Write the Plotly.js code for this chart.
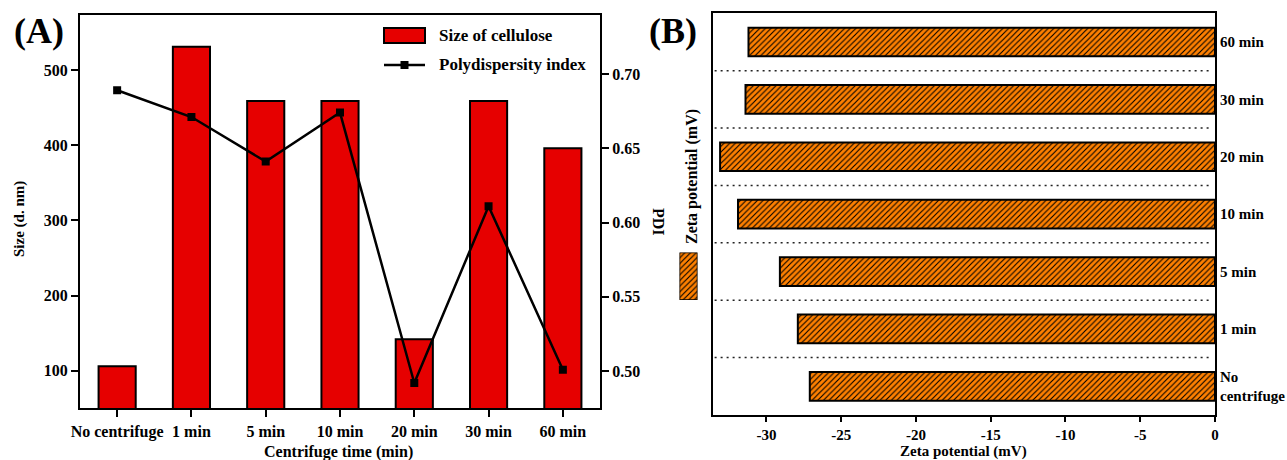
<!DOCTYPE html>
<html>
<head>
<meta charset="utf-8">
<script src="https://cdn.plot.ly/plotly-3.0.1.min.js"></script>
<style>html,body{margin:0;padding:0;background:#fff;}#chart{width:1287px;height:460px;}</style>
</head>
<body>
<div id="chart"></div>
<script>
// ---- data ----
const categories = ['No centrifuge', '1 min', '5 min', '10 min', '20 min', '30 min', '60 min'];
const sizeNm = [106, 531, 459, 459, 142, 459, 396];
const pdi = [0.689, 0.671, 0.641, 0.674, 0.492, 0.611, 0.501];
const zetaLabels = ['No<br>centrifuge', '1 min', '5 min', '10 min', '20 min', '30 min', '60 min'];
const zeta = [-27.1, -27.9, -29.1, -31.9, -33.1, -31.4, -31.2];
const sizeTicks = [100, 200, 300, 400, 500];
const pdiTicks = [0.50, 0.55, 0.60, 0.65, 0.70];
const pdiTickText = ['0.50', '0.55', '0.60', '0.65', '0.70'];
const zetaTicks = [-30, -25, -20, -15, -10, -5, 0];
const zetaTickText = ['-30', '-25', '-20', '-15', '-10', '-5', '0'];

// ---- layout helpers ----
const W = 1287, H = 460;
const px = x => x / W;
const py = y => 1 - y / H;
const FONT = 'Liberation Serif, Times New Roman, serif';
const RED = '#E60000';
const ORANGE = '#FF8000';
const hatch = {shape: '/', fgcolor: '#000', bgcolor: ORANGE, size: 4, solidity: 0.28, fillmode: 'replace'};

const traces = [
  {type: 'bar', x: categories, y: sizeNm, xaxis: 'x', yaxis: 'y', width: 0.5,
   marker: {color: RED, line: {color: '#000', width: 2}}, name: 'Size of cellulose', showlegend: false},
  {type: 'scatter', mode: 'lines+markers', x: categories, y: pdi, xaxis: 'x', yaxis: 'y2',
   line: {color: '#000', width: 2.5}, marker: {symbol: 'square', size: 8, color: '#000'},
   name: 'Polydispersity index', showlegend: false},
  {type: 'bar', orientation: 'h', x: zeta, y: categories, xaxis: 'x2', yaxis: 'y3', width: 0.5,
   marker: {color: ORANGE, pattern: hatch, line: {color: '#000', width: 2}}, name: 'Zeta potential', showlegend: false},
  // legend swatch for panel B (left side)
  {type: 'bar', x: ['swatch'], y: [1], xaxis: 'x3', yaxis: 'y4', width: 1,
   marker: {color: ORANGE, pattern: hatch, line: {color: '#000', width: 1.5}}, showlegend: false, hoverinfo: 'skip'}
];

const shapes = [];
// dotted separators between categories in panel B
for (let i = 0; i < categories.length - 1; i++) {
  shapes.push({type: 'line', xref: 'x2 domain', yref: 'y3', x0: 0.004, x1: 0.993, y0: i + 0.5, y1: i + 0.5,
               line: {color: '#222', width: 1.5, dash: '2px,4px'}});
}
// manual legend for panel A
shapes.push({type: 'rect', xref: 'paper', yref: 'paper', x0: px(384), x1: px(425), y0: py(43), y1: py(28),
             fillcolor: RED, line: {color: '#000', width: 2}});
shapes.push({type: 'line', xref: 'paper', yref: 'paper', x0: px(384), x1: px(425), y0: py(65), y1: py(65),
             line: {color: '#000', width: 2.5}});
shapes.push({type: 'rect', xref: 'paper', yref: 'paper', x0: px(400.5), x1: px(408.5), y0: py(69), y1: py(61),
             fillcolor: '#000', line: {color: '#000', width: 0}});

const bold = (size) => ({family: FONT, size: size, color: '#000', weight: 'bold'});
const ann = (text, x, y, size, extra) => Object.assign({text: text, xref: 'paper', yref: 'paper', x: px(x), y: py(y),
  showarrow: false, font: bold(size), xanchor: 'center', yanchor: 'middle'}, extra || {});

const annotations = [
  ann('(A)', 39, 31, 36),
  ann('(B)', 673, 31, 36),
  ann('Size (d. nm)', 19, 219, 15, {textangle: -90}),
  ann('Centrifuge time (min)', 338, 452, 16),
  ann('Zeta potential (mV)', 963, 451.5, 15),
  ann('PDI', 659, 222, 16, {textangle: 90}),
  ann('Zeta potential (mV)', 692, 177, 16, {textangle: -90}),
  ann('Size of cellulose', 437, 35, 17, {xanchor: 'left'}),
  ann('Polydispersity index', 437, 65, 17, {xanchor: 'left'})
];

const axLine = {showline: true, linecolor: '#000', linewidth: 2, showgrid: false, zeroline: false,
                tickcolor: '#000', tickwidth: 2, ticklen: 7, ticks: 'outside', tickfont: bold(16)};

const layout = {
  width: W, height: H, margin: {l: 0, r: 0, t: 0, b: 0},
  paper_bgcolor: '#fff', plot_bgcolor: 'rgba(0,0,0,0)',
  font: bold(16), showlegend: false, bargap: 0,
  xaxis: Object.assign({}, axLine, {domain: [px(80), px(600)], anchor: 'y', type: 'category',
    categoryorder: 'array', categoryarray: categories, range: [-0.5, 6.5], mirror: true}),
  yaxis: Object.assign({}, axLine, {domain: [py(408.3), py(14.5)], anchor: 'x', range: [50, 574],
    tickvals: sizeTicks}),
  yaxis2: Object.assign({}, axLine, {overlaying: 'y', side: 'right', anchor: 'x', range: [0.475, 0.740],
    tickvals: pdiTicks, ticktext: pdiTickText}),
  xaxis2: Object.assign({}, axLine, {domain: [px(712.6), px(1215)], anchor: 'y3', range: [-33.6, 0],
    tickvals: zetaTicks, ticktext: zetaTickText, mirror: true, ticklen: 5, tickfont: bold(15)}),
  yaxis3: Object.assign({}, axLine, {domain: [py(415), py(13.3)], anchor: 'x2', side: 'right', type: 'category',
    categoryorder: 'array', categoryarray: categories, range: [-0.5, 6.5], ticks: '', mirror: true,
    tickvals: categories, ticktext: zetaLabels, tickfont: bold(15)}),
  xaxis3: {domain: [px(679.5), px(697.5)], anchor: 'y4', visible: false, fixedrange: true, range: [-0.5, 0.5]},
  yaxis4: {domain: [py(300), py(252.5)], anchor: 'x3', visible: false, fixedrange: true, range: [0, 1]},
  shapes: shapes,
  annotations: annotations
};

Plotly.newPlot('chart', traces, layout, {staticPlot: true, displayModeBar: false});
</script>
</body>
</html>
